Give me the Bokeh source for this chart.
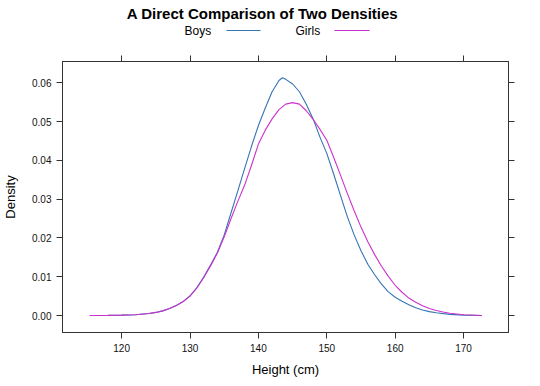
from bokeh.plotting import figure
from bokeh.layouts import column
from bokeh.models import (LinearAxis, FixedTicker, Range1d, Label, Arrow,
                          PrintfTickFormatter)
from bokeh.embed import file_html
from bokeh.resources import INLINE

# ---- data ----
boys_x = [115.4, 118, 120, 122, 124, 125, 126, 127, 128, 129, 130, 131, 132, 133,
          134, 135, 136, 137, 138, 139, 140, 141, 142, 143, 143.5, 144, 145, 146,
          147, 148, 149, 150, 151, 152, 153, 154, 155, 156, 157, 158, 159, 160,
          161, 162, 163, 164, 165, 166, 168, 170, 172.6]
boys_y = [0, 0.00003, 0.0001, 0.0002, 0.0005, 0.0008, 0.0012, 0.0018, 0.0026,
          0.0036, 0.0051, 0.0072, 0.0099, 0.013, 0.0163, 0.0208, 0.0265, 0.0322,
          0.038, 0.0437, 0.049, 0.0535, 0.0577, 0.0606, 0.0613, 0.0609, 0.0597,
          0.0577, 0.0545, 0.0507, 0.046, 0.0418, 0.0365, 0.031, 0.0255, 0.0208,
          0.0167, 0.0132, 0.0105, 0.0081, 0.0061, 0.0047, 0.0037, 0.0028, 0.002,
          0.0014, 0.001, 0.0007, 0.0003, 0.0001, 0]
girls_x = [115.3, 118, 120, 122, 124, 125, 126, 127, 128, 129, 130, 131, 132, 133,
           134, 135, 136, 137, 138, 139, 140, 141, 142, 143, 144, 145, 146, 147,
           148, 149, 150, 151, 152, 153, 154, 155, 156, 157, 158, 159, 160, 161,
           162, 163, 164, 165, 166, 167, 168, 170, 172.7]
girls_y = [0, 0.00003, 0.0001, 0.0002, 0.0005, 0.0008, 0.0012, 0.0018, 0.0026,
           0.0036, 0.005, 0.0071, 0.0098, 0.0128, 0.0161, 0.0203, 0.025, 0.0295,
           0.0337, 0.0388, 0.0442, 0.0478, 0.0507, 0.0531, 0.0545, 0.0549, 0.0545,
           0.0528, 0.0506, 0.048, 0.0452, 0.0408, 0.0362, 0.0315, 0.027, 0.0228,
           0.019, 0.0157, 0.0127, 0.0101, 0.0078, 0.006, 0.0045, 0.0034, 0.0025,
           0.0018, 0.0013, 0.0009, 0.0006, 0.0002, 0]
x_ticks = [120, 130, 140, 150, 160, 170]
y_ticks = [0.0, 0.01, 0.02, 0.03, 0.04, 0.05, 0.06]
series_names = ["Boys", "Girls"]
series_colors = ["#3574b4", "#cc33cc"]
title_text = "A Direct Comparison of Two Densities"
x_label = "Height (cm)"
y_label = "Density"

FONT = "Liberation Sans"
HEAD_H = 53
FRAME_LEFT = 61  # the column layout aligns the header's frame with the panel's

# ---- header (title + key) ----
head = figure(width=540, height=HEAD_H, output_backend="svg", toolbar_location=None,
              x_range=Range1d(0, 540), y_range=Range1d(0, HEAD_H),
              x_axis_location=None, y_axis_location=None,
              min_border=0, min_border_left=0, min_border_right=0,
              min_border_top=0, min_border_bottom=0)
head.grid.visible = False
head.outline_line_color = None
head.background_fill_color = "white"
head.border_fill_color = "white"

def hx(px):
    return px - FRAME_LEFT

def hy(py):
    # screen units are measured from the frame's bottom edge
    return HEAD_H - py

head.add_layout(Label(x=hx(261), y=hy(12.5), x_units="screen", y_units="screen",
                      text=title_text, text_align="center", text_baseline="middle",
                      text_font=FONT, text_font_size="15px", text_font_style="bold",
                      text_color="black"))
head.add_layout(Label(x=hx(183), y=hy(30), x_units="screen", y_units="screen",
                      text=series_names[0], text_align="left", text_baseline="middle",
                      text_font=FONT, text_font_size="12px", text_color="black"))
head.add_layout(Label(x=hx(294), y=hy(30), x_units="screen", y_units="screen",
                      text=series_names[1], text_align="left", text_baseline="middle",
                      text_font=FONT, text_font_size="12px", text_color="black"))
head.add_layout(Arrow(x_start=hx(225), y_start=hy(30), x_end=hx(259), y_end=hy(30),
                      start_units="screen", end_units="screen", end=None,
                      line_color=series_colors[0], line_width=1.2))
head.add_layout(Arrow(x_start=hx(333), y_start=hy(30), x_end=hx(368), y_end=hy(30),
                      start_units="screen", end_units="screen", end=None,
                      line_color=series_colors[1], line_width=1.2))

# ---- main panel ----
p = figure(width=540, height=386 - HEAD_H, output_backend="svg", toolbar_location=None,
           x_range=Range1d(111.35, 176.57), y_range=Range1d(-0.00438, 0.0655),
           x_axis_location=None, y_axis_location=None,
           min_border_left=FRAME_LEFT, min_border_right=32, min_border_top=61 - HEAD_H,
           min_border_bottom=54)
p.grid.visible = False
p.background_fill_color = "white"
p.border_fill_color = "white"
p.outline_line_color = "#333333"
p.outline_line_width = 1

def make_axis(ticks, show_labels, fmt=None, label=None, standoff=6):
    ax = LinearAxis(ticker=FixedTicker(ticks=ticks))
    ax.major_tick_in = 0
    ax.major_tick_out = 6
    ax.minor_tick_line_color = None
    ax.major_tick_line_color = "#333333"
    ax.axis_line_color = "#333333"
    ax.major_label_standoff = 5
    ax.major_label_text_font = FONT
    ax.major_label_text_font_size = "10px"
    ax.major_label_text_color = "#111111"
    if fmt:
        ax.formatter = PrintfTickFormatter(format=fmt)
    if not show_labels:
        ax.major_label_overrides = {t: "" for t in ticks}
    if label:
        ax.axis_label = label
        ax.axis_label_text_font = FONT
        ax.axis_label_text_font_size = "13px"
        ax.axis_label_text_font_style = "normal"
        ax.axis_label_text_color = "black"
        ax.axis_label_standoff = standoff
    return ax

p.add_layout(make_axis(x_ticks, True, label=x_label, standoff=7), "below")
p.add_layout(make_axis(x_ticks, False), "above")
p.add_layout(make_axis(y_ticks, True, "%.2f", label=y_label, standoff=11), "left")
p.add_layout(make_axis(y_ticks, False, "%.2f"), "right")

p.line(boys_x, boys_y, line_color=series_colors[0], line_width=1.1)
p.line(girls_x, girls_y, line_color=series_colors[1], line_width=1.1)

layout = column(head, p, spacing=0)
open("out.html", "w").write(file_html(layout, INLINE))
